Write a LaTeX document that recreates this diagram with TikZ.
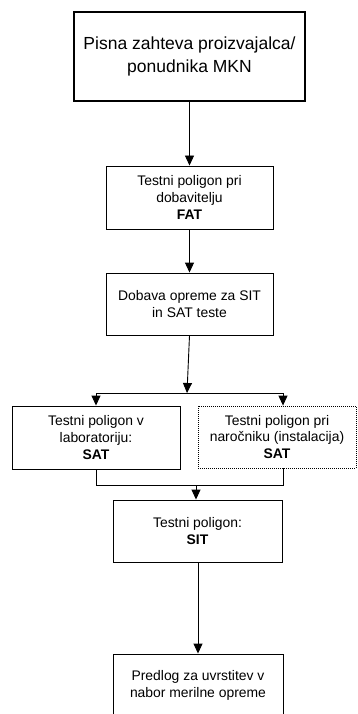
\documentclass[tikz,border=0pt]{standalone}
\usepackage{fontspec}
\setmainfont{Liberation Sans}
\usetikzlibrary{arrows.meta}
\begin{document}
\begin{tikzpicture}[x=1pt,y=-1pt,
  box/.style={draw=black,line width=0.9pt,rectangle,align=center,inner sep=0pt,
    font=\fontsize{13.9}{16.8}\selectfont},
  bigbox/.style={box,line width=1.8pt,font=\fontsize{17.5}{23}\selectfont},
  dotbox/.style={box,line width=0.8pt,dash pattern=on 1pt off 1pt},
  conn/.style={draw=black,line width=0.9pt},
  arr/.style={conn,-{Triangle[length=10pt,width=9pt]}}]
\useasboundingbox (0,0) rectangle (358,714);
\clip (0,0) rectangle (358,714);
\node[bigbox,minimum width=231pt,minimum height=89pt] (b1) at (189.5,56.5)
  {Pisna zahteva proizvajalca/\\ponudnika MKN};
\node[box,minimum width=167pt,minimum height=63pt] (b2) at (189.5,197.5)
  {Testni poligon pri\\dobavitelju\\\textbf{FAT}};
\node[box,minimum width=167pt,minimum height=62pt] (b3) at (189.5,304)
  {Dobava opreme za SIT\\in SAT teste};
\node[box,minimum width=168pt,minimum height=63pt] (b4) at (96,437.5)
  {Testni poligon v\\laboratoriju:\\\textbf{SAT}};
\node[dotbox,minimum width=158pt,minimum height=62pt] (b5) at (277,437)
  {Testni poligon pri\\naročniku (instalacija)\\\textbf{SAT}};
\node[box,minimum width=169pt,minimum height=62pt] (b6) at (197.5,531)
  {Testni poligon:\\\textbf{SIT}};
\node[box,minimum width=170pt,minimum height=62pt] (b7) at (198,685)
  {Predlog za uvrstitev v\\nabor merilne opreme};
\coordinate (j1) at (187,393);
\coordinate (hl) at (96,393);
\coordinate (hr) at (283,393);
\coordinate (bl) at (96,485);
\coordinate (br) at (283,485);
\coordinate (bm) at (196,485);
\draw[arr] (b1.south) -- (b2.north);
\draw[arr] (b2.south) -- (b3.north);
\draw[arr] (b3.south) -- (j1);
\draw[conn] (hl) -- (hr);
\draw[arr] (hl) -- (b4.north);
\draw[arr] (hr) -- (hr |- b5.north);
\draw[conn] (b4.south) -- (bl) -- (br) -- (br |- b5.south);
\draw[arr] (bm) -- (bm |- b6.north);
\draw[arr] (b6.south -| b7.north) -- (b7.north);
\end{tikzpicture}
\end{document}
